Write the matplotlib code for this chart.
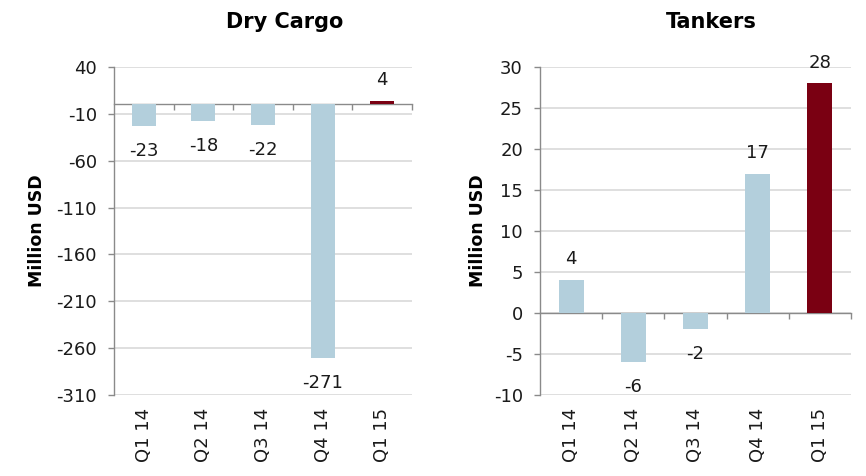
import matplotlib
matplotlib.use('Agg')
import matplotlib.pyplot as plt

# data
quarters = ['Q1 14', 'Q2 14', 'Q3 14', 'Q4 14', 'Q1 15']
dry_cargo = [-23, -18, -22, -271, 4]
tankers = [4, -6, -2, 17, 28]
dry_ticks = [-310, -260, -210, -160, -110, -60, -10, 40]
tank_ticks = [-10, -5, 0, 5, 10, 15, 20, 25, 30]

light = '#B3CFDC'
dark = '#7A0012'
gray = '#8A8A8A'
grid = '#D9D9D9'
txt = '#1A1A1A'

plt.rcParams['font.family'] = ['DejaVu Sans']
plt.rcParams['axes.unicode_minus'] = False

fig = plt.figure(figsize=(8.66, 4.76), dpi=100)
ax1 = fig.add_axes([114/866, 81/476, 298/866, 328/476])
ax2 = fig.add_axes([540/866, 81/476, 311/866, 328/476])


def draw(ax, vals, ticks, title, title_x, label_x):
    x = list(range(len(vals)))
    colors = [light] * (len(vals) - 1) + [dark]
    ax.bar(x, vals, width=0.4, color=colors, zorder=3)
    ax.set_xlim(-0.5, len(vals) - 0.5)
    ax.set_ylim(ticks[0], ticks[-1])
    ax.set_yticks(ticks)
    ax.set_axisbelow(True)
    ax.yaxis.grid(True, color=grid, linewidth=1.2)
    for s in ['top', 'right']:
        ax.spines[s].set_visible(False)
    ax.spines['left'].set_color(gray)
    ax.spines['left'].set_linewidth(1.0)
    # zero line with category separator ticks
    ax.spines['bottom'].set_position(('data', 0))
    ax.spines['bottom'].set_color(gray)
    ax.spines['bottom'].set_linewidth(1.0)
    ax.set_xticks([i + 0.5 for i in x])
    ax.set_xticklabels([])
    ax.tick_params(axis='x', direction='out', length=4.5, color=gray, width=1.0)
    ax.tick_params(axis='y', direction='out', length=4.3, color=gray, width=1.0,
                   labelsize=13, labelcolor=txt, pad=8)
    # category labels at the bottom
    sec = ax.secondary_xaxis('bottom')
    sec.set_xticks(x)
    sec.set_xticklabels(quarters, rotation=90, fontsize=13, color=txt)
    sec.tick_params(length=0, pad=9)
    sec.spines['bottom'].set_visible(False)
    # value labels
    for xi, v in zip(x, vals):
        off = 15 if v >= 0 else -18
        ax.annotate(str(v), (xi, v), xytext=(0, off), textcoords='offset points',
                    ha='center', va='center', fontsize=13, color=txt, zorder=4)
    ax.text(title_x, 1.137, title, transform=ax.transAxes, ha='center', va='center',
            fontsize=15, fontweight='bold', color='black')
    ax.set_ylabel('Million USD', fontsize=12.5, fontweight='bold', color='black')
    ax.yaxis.set_label_coords(label_x, 0.5)
    ax.yaxis.label.set_va('center')


draw(ax1, dry_cargo, dry_ticks, 'Dry Cargo', 0.574, -(114 - 37) / 298)
draw(ax2, tankers, tank_ticks, 'Tankers', 0.55, -(540 - 478) / 311)

fig.savefig('out.png', dpi=100)
